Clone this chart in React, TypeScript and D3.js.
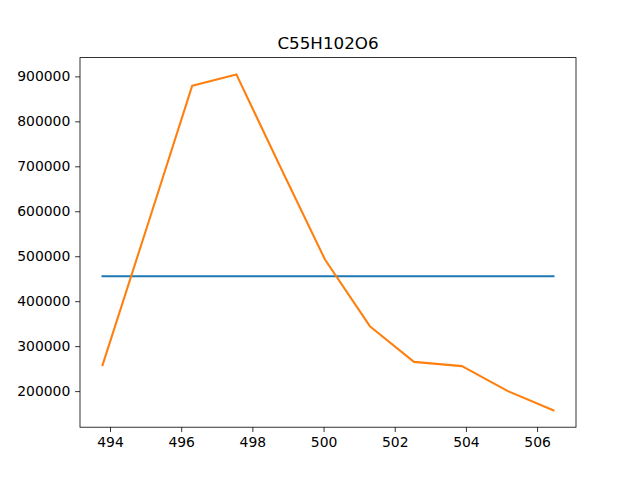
import React, { useRef, useEffect } from "react";
import * as d3 from "d3";

const chart_width = 640;
const chart_height = 480;
const margin = { left: 80, right: 64, top: 57.6, bottom: 52.8 };

const title = "C55H102O6";

const x_values: number[] = [
  493.79, 495.05, 496.31, 497.55, 498.79, 500.04, 501.3, 502.54, 503.89, 505.18, 506.46,
];
const orange_values: number[] = [
  257800, 567800, 879300, 904400, 697800, 492700, 344400, 265100, 255600, 200000, 157100,
];
const blue_values: number[] = [
  455600, 455600, 455600, 455600, 455600, 455600, 455600, 455600, 455600, 455600, 455600,
];

const x_ticks: number[] = [494, 496, 498, 500, 502, 504, 506];
const y_ticks: number[] = [200000, 300000, 400000, 500000, 600000, 700000, 800000, 900000];

const series_colors = ["#1f77b4", "#ff7f0e"];

// matplotlib style 5% padding around the data
const padded = (lo: number, hi: number): [number, number] => {
  const pad = (hi - lo) * 0.05;
  return [lo - pad, hi + pad];
};

const App: React.FC = () => {
  const d3Container = useRef<SVGSVGElement | null>(null);

  useEffect(() => {
    if (!d3Container.current) return;
    const svg = d3.select(d3Container.current);
    svg.selectAll("*").remove();

    const x_ext = d3.extent(x_values) as [number, number];
    const all_y = orange_values.concat(blue_values);
    const y_ext = d3.extent(all_y) as [number, number];

    const x_scale = d3
      .scaleLinear()
      .domain(padded(x_ext[0], x_ext[1]))
      .range([margin.left, chart_width - margin.right]);

    const y_scale = d3
      .scaleLinear()
      .domain(padded(y_ext[0], y_ext[1]))
      .range([chart_height - margin.bottom, margin.top]);

    const font = "'DejaVu Sans', sans-serif";

    svg
      .append("rect")
      .attr("width", chart_width)
      .attr("height", chart_height)
      .attr("fill", "white");

    const line = d3
      .line<number>()
      .x((_d, i) => x_scale(x_values[i]))
      .y((d) => y_scale(d));

    [blue_values, orange_values].forEach((vals, i) => {
      svg
        .append("path")
        .datum(vals)
        .attr("d", line)
        .attr("fill", "none")
        .attr("stroke", series_colors[i])
        .attr("stroke-width", 2.08)
        .attr("stroke-linejoin", "round")
        .attr("stroke-linecap", "square");
    });

    const xAxis = d3
      .axisBottom(x_scale)
      .tickValues(x_ticks)
      .tickSize(4.86)
      .tickPadding(4.86)
      .tickFormat(d3.format("d"));
    const yAxis = d3
      .axisLeft(y_scale)
      .tickValues(y_ticks)
      .tickSize(4.86)
      .tickPadding(4.86)
      .tickFormat(d3.format("d"));

    const gx = svg
      .append("g")
      .attr("transform", "translate(0," + (chart_height - margin.bottom) + ")")
      .call(xAxis);
    const gy = svg
      .append("g")
      .attr("transform", "translate(" + margin.left + ",0)")
      .call(yAxis);

    [gx, gy].forEach((g) => {
      g.select(".domain").remove();
      g.selectAll("line").attr("stroke", "black").attr("stroke-width", 0.8);
      g.selectAll("text")
        .attr("fill", "black")
        .style("font-family", font)
        .style("font-size", "13.9px");
    });

    // frame
    svg
      .append("rect")
      .attr("x", margin.left)
      .attr("y", margin.top)
      .attr("width", chart_width - margin.left - margin.right)
      .attr("height", chart_height - margin.top - margin.bottom)
      .attr("fill", "none")
      .attr("stroke", "black")
      .attr("stroke-width", 0.8);

    svg
      .append("text")
      .attr("x", (margin.left + chart_width - margin.right) / 2)
      .attr("y", margin.top - 8.4)
      .attr("text-anchor", "middle")
      .style("font-family", font)
      .style("font-size", "16.7px")
      .text(title);
  }, []);

  return (
    <div style={{ position: "absolute", left: 0, top: 0 }}>
      <svg ref={d3Container} width={chart_width} height={chart_height} />
    </div>
  );
};

export default App;
